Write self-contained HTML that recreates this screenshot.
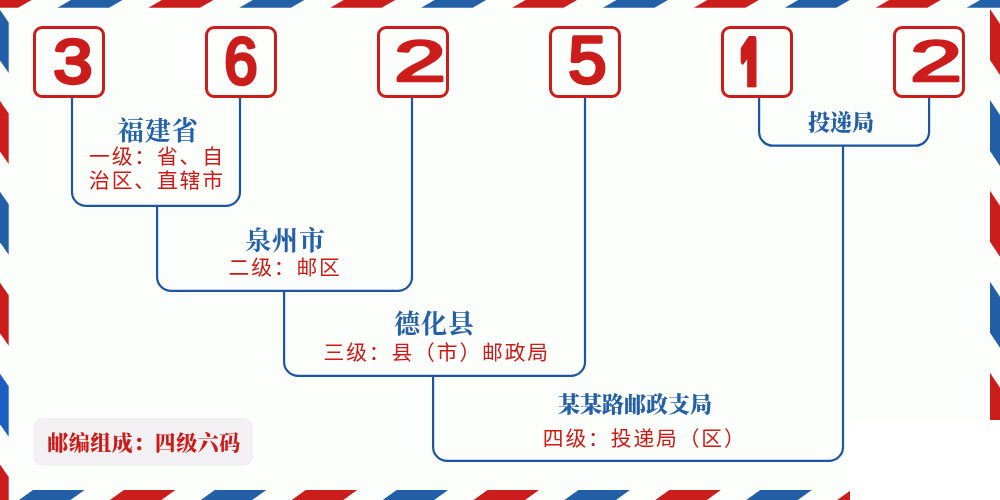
<!DOCTYPE html>
<html lang="zh-CN">
<head>
<meta charset="utf-8">
<title>362512 邮编组成</title>
<style>
html,body{margin:0;padding:0;background:#fcfefc;}
body{width:1000px;height:500px;overflow:hidden;position:relative;}
svg{position:absolute;left:0;top:0;display:block;will-change:transform;}
.dg{font-family:"Liberation Sans",sans-serif;font-weight:700;font-style:normal;font-size:64px;fill:#cb1d1b;stroke:#cb1d1b;stroke-width:0;stroke-linejoin:round;}
.ttl{font-family:"Liberation Serif","Noto Serif CJK SC",serif;font-weight:700;font-size:26.1px;letter-spacing:0.8px;fill:#2460a8;}
.ttl2{font-family:"Liberation Serif","Noto Serif CJK SC",serif;font-weight:900;font-size:22px;fill:#2460a8;}
.sub{font-family:"Liberation Sans","Noto Sans CJK SC",sans-serif;font-weight:400;font-size:20.8px;letter-spacing:1.85px;fill:#cc1a16;}
.pill{font-family:"Liberation Serif","Noto Serif CJK SC",serif;font-weight:900;font-size:20.9px;letter-spacing:0.6px;fill:#cc1a16;}
</style>
</head>
<body>
<svg width="1000" height="500" viewBox="0 0 1000 500">
<defs><clipPath id="dc4"><rect x="-20" y="-80" width="100" height="69"/></clipPath></defs>
<rect x="0" y="0" width="1000" height="500" fill="#fcfefc"/>
<polygon points="-33.41,7.70 18.09,7.70 31.59,0.00 -19.91,0.00" fill="#cb1d1b"/>
<polygon points="57.50,7.70 109.00,7.70 122.50,0.00 71.00,0.00" fill="#235fa6"/>
<polygon points="148.41,7.70 199.91,7.70 213.41,0.00 161.91,0.00" fill="#cb1d1b"/>
<polygon points="239.32,7.70 290.82,7.70 304.32,0.00 252.82,0.00" fill="#235fa6"/>
<polygon points="330.23,7.70 381.73,7.70 395.23,0.00 343.73,0.00" fill="#cb1d1b"/>
<polygon points="421.14,7.70 472.64,7.70 486.14,0.00 434.64,0.00" fill="#235fa6"/>
<polygon points="512.05,7.70 563.55,7.70 577.05,0.00 525.55,0.00" fill="#cb1d1b"/>
<polygon points="602.95,7.70 654.45,7.70 667.95,0.00 616.45,0.00" fill="#235fa6"/>
<polygon points="693.86,7.70 745.36,7.70 758.86,0.00 707.36,0.00" fill="#cb1d1b"/>
<polygon points="784.77,7.70 836.27,7.70 849.77,0.00 798.27,0.00" fill="#235fa6"/>
<polygon points="875.68,7.70 927.18,7.70 940.68,0.00 889.18,0.00" fill="#cb1d1b"/>
<polygon points="966.59,7.70 1018.09,7.70 1031.59,0.00 980.09,0.00" fill="#235fa6"/>
<polygon points="-57.91,490.00 -6.41,490.00 -20.41,500.00 -71.91,500.00" fill="#cb1d1b"/>
<polygon points="33.00,490.00 84.50,490.00 70.50,500.00 19.00,500.00" fill="#235fa6"/>
<polygon points="123.91,490.00 175.41,490.00 161.41,500.00 109.91,500.00" fill="#cb1d1b"/>
<polygon points="214.82,490.00 266.32,490.00 252.32,500.00 200.82,500.00" fill="#235fa6"/>
<polygon points="305.73,490.00 357.23,490.00 343.23,500.00 291.73,500.00" fill="#cb1d1b"/>
<polygon points="396.64,490.00 448.14,490.00 434.14,500.00 382.64,500.00" fill="#235fa6"/>
<polygon points="487.55,490.00 539.05,490.00 525.05,500.00 473.55,500.00" fill="#cb1d1b"/>
<polygon points="578.45,490.00 629.95,490.00 615.95,500.00 564.45,500.00" fill="#235fa6"/>
<polygon points="669.36,490.00 720.86,490.00 706.86,500.00 655.36,500.00" fill="#cb1d1b"/>
<polygon points="760.27,490.00 811.77,490.00 797.77,500.00 746.27,500.00" fill="#235fa6"/>
<polygon points="851.18,490.00 902.68,490.00 888.68,500.00 837.18,500.00" fill="#cb1d1b"/>
<polygon points="942.09,490.00 993.59,490.00 979.59,500.00 928.09,500.00" fill="#235fa6"/>
<polygon points="0.00,-80.91 8.70,-68.41 8.70,-17.91 0.00,-30.41" fill="#cb1d1b"/>
<polygon points="0.00,10.00 8.70,22.50 8.70,73.00 0.00,60.50" fill="#235fa6"/>
<polygon points="0.00,100.91 8.70,113.41 8.70,163.91 0.00,151.41" fill="#cb1d1b"/>
<polygon points="0.00,191.82 8.70,204.32 8.70,254.82 0.00,242.32" fill="#235fa6"/>
<polygon points="0.00,282.73 8.70,295.23 8.70,345.73 0.00,333.23" fill="#cb1d1b"/>
<polygon points="0.00,373.64 8.70,386.14 8.70,436.64 0.00,424.14" fill="#1b5fc2"/>
<polygon points="0.00,464.55 8.70,477.05 8.70,527.55 0.00,515.05" fill="#cb1d1b"/>
<polygon points="990.00,-81.91 1000.00,-66.91 1000.00,-15.91 990.00,-30.91" fill="#235fa6"/>
<polygon points="990.00,9.00 1000.00,24.00 1000.00,75.00 990.00,60.00" fill="#cb1d1b"/>
<polygon points="990.00,99.91 1000.00,114.91 1000.00,165.91 990.00,150.91" fill="#235fa6"/>
<polygon points="990.00,190.82 1000.00,205.82 1000.00,256.82 990.00,241.82" fill="#cb1d1b"/>
<polygon points="990.00,281.73 1000.00,296.73 1000.00,347.73 990.00,332.73" fill="#235fa6"/>
<polygon points="990.00,372.64 1000.00,387.64 1000.00,438.64 990.00,423.64" fill="#cb1d1b"/>
<polygon points="990.00,463.55 1000.00,478.55 1000.00,529.55 990.00,514.55" fill="#235fa6"/>
<rect x="850" y="420" width="150" height="80" fill="#ffffff"/>
<rect x="33" y="418" width="220" height="47.7" rx="9" fill="#f3f0f4"/>
<path d="M72.0 97.0 V191.9 A14 14 0 0 0 86.0 205.9 H226.0 A14 14 0 0 0 240.0 191.9 V97.0" fill="none" stroke="#1c56a3" stroke-width="2.2"/>
<path d="M157.1 205.9 V276.9 A14 14 0 0 0 171.1 290.9 H398.0 A14 14 0 0 0 412.0 276.9 V97.0" fill="none" stroke="#1c56a3" stroke-width="2.2"/>
<path d="M284.1 290.9 V361.9 A14 14 0 0 0 298.1 375.9 H571.0 A14 14 0 0 0 585.0 361.9 V97.0" fill="none" stroke="#1c56a3" stroke-width="2.2"/>
<path d="M433.1 375.9 V446.9 A14 14 0 0 0 447.1 460.9 H829.0 A14 14 0 0 0 843.0 446.9 V145.7" fill="none" stroke="#1c56a3" stroke-width="2.2"/>
<path d="M759.1 97.0 V131.7 A14 14 0 0 0 773.1 145.7 H915.1 A14 14 0 0 0 929.1 131.7 V97.0" fill="none" stroke="#1c56a3" stroke-width="2.2"/>
<rect x="34.5" y="27.5" width="69" height="69" rx="7.5" fill="#fcfefc" stroke="#cb1d1b" stroke-width="3"/>
<rect x="206.5" y="27.5" width="69" height="69" rx="7.5" fill="#fcfefc" stroke="#cb1d1b" stroke-width="3"/>
<rect x="378.5" y="27.5" width="69" height="69" rx="7.5" fill="#fcfefc" stroke="#cb1d1b" stroke-width="3"/>
<rect x="550.5" y="27.5" width="69" height="69" rx="7.5" fill="#fcfefc" stroke="#cb1d1b" stroke-width="3"/>
<rect x="722.5" y="27.5" width="69" height="69" rx="7.5" fill="#fcfefc" stroke="#cb1d1b" stroke-width="3"/>
<rect x="894.5" y="27.5" width="69" height="69" rx="7.5" fill="#fcfefc" stroke="#cb1d1b" stroke-width="3"/>
<text class="dg" transform="matrix(1.1053 0 0.0000 0.9898 53.200 82.650)" x="0" y="0" style='font-weight:400;stroke-width:3.5px;vector-effect:non-scaling-stroke'>3</text>
<text class="dg" transform="matrix(0.9364 0 0.0000 1.0495 224.200 83.750)" x="0" y="0" style='font-weight:400;stroke-width:3.5px;vector-effect:non-scaling-stroke'>6</text>
<text class="dg" transform="matrix(1.4621 0 0.0000 0.9080 394.050 80.550)" x="0" y="0" style='font-weight:400;stroke-width:3.5px;vector-effect:non-scaling-stroke'>2</text>
<text class="dg" transform="matrix(1.0761 0 0.0000 1.0469 568.200 82.750)" x="0" y="0" style='font-weight:400;stroke-width:3.5px;vector-effect:non-scaling-stroke'>5</text>
<text class="dg" transform="matrix(0.6118 0 0.0000 1.3877 740.050 102.400)" x="0" y="0" style='font-style:normal;stroke-width:7px;vector-effect:non-scaling-stroke' clip-path="url(#dc4)">1</text>
<text class="dg" transform="matrix(1.4621 0 0.0000 0.9080 910.050 80.550)" x="0" y="0" style='font-weight:400;stroke-width:3.5px;vector-effect:non-scaling-stroke'>2</text>
<text class="ttl" x="158.2" y="139.5" text-anchor="middle">福建省</text>
<text class="sub" x="89.0" y="163.6" text-anchor="start">一级：省、自</text>
<text class="sub" x="89.0" y="187.9" text-anchor="start">治区、直辖市</text>
<text class="ttl" x="285.5" y="249.5" text-anchor="middle">泉州市</text>
<text class="sub" x="228.5" y="275.3" text-anchor="start">二级：邮区</text>
<text class="ttl" x="434.4" y="333.3" text-anchor="middle">德化县</text>
<text class="sub" x="323.5" y="359.8" text-anchor="start">三级：县（市）邮政局</text>
<text class="ttl2" x="635.0" y="411.5" text-anchor="middle">某某路邮政支局</text>
<text class="sub" x="542.8" y="445.6" text-anchor="start">四级：投递局（区）</text>
<text class="ttl2" x="841.0" y="129.5" text-anchor="middle">投递局</text>
<text class="pill" x="144.0" y="450.0" text-anchor="middle">邮编组成：四级六码</text>
</svg>
</body>
</html>
